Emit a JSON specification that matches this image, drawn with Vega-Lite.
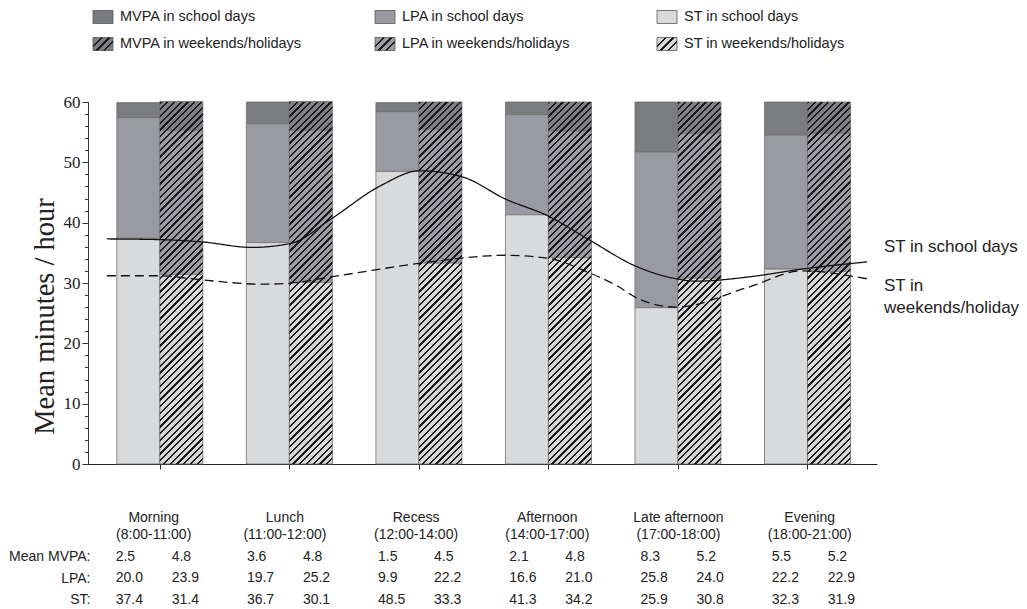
{
  "$schema": "https://vega.github.io/schema/vega-lite/v6.json",
  "padding": {"left": 8, "top": 3, "right": 0, "bottom": 0},
  "spacing": 20,
  "config": {
    "view": {"stroke": null},
    "font": "Liberation Sans",
    "axis": {"grid": false}
  },
  "datasets": {
    "series": [
      {"series":"MVPA in school days","activity":"MVPA","day":"school"},
      {"series":"LPA in school days","activity":"LPA","day":"school"},
      {"series":"ST in school days","activity":"ST","day":"school"},
      {"series":"MVPA in weekends/holidays","activity":"MVPA","day":"weekend"},
      {"series":"LPA in weekends/holidays","activity":"LPA","day":"weekend"},
      {"series":"ST in weekends/holidays","activity":"ST","day":"weekend"}
    ],
    "bars": [
      {"pos":1,"day":"school","activity":"MVPA","level":3,"series":"MVPA in school days","minutes":2.5},
      {"pos":1,"day":"school","activity":"LPA","level":2,"series":"LPA in school days","minutes":20.0},
      {"pos":1,"day":"school","activity":"ST","level":1,"series":"ST in school days","minutes":37.4},
      {"pos":1,"day":"weekend","activity":"MVPA","level":3,"series":"MVPA in weekends/holidays","minutes":4.8},
      {"pos":1,"day":"weekend","activity":"LPA","level":2,"series":"LPA in weekends/holidays","minutes":23.9},
      {"pos":1,"day":"weekend","activity":"ST","level":1,"series":"ST in weekends/holidays","minutes":31.4},
      {"pos":2,"day":"school","activity":"MVPA","level":3,"series":"MVPA in school days","minutes":3.6},
      {"pos":2,"day":"school","activity":"LPA","level":2,"series":"LPA in school days","minutes":19.7},
      {"pos":2,"day":"school","activity":"ST","level":1,"series":"ST in school days","minutes":36.7},
      {"pos":2,"day":"weekend","activity":"MVPA","level":3,"series":"MVPA in weekends/holidays","minutes":4.8},
      {"pos":2,"day":"weekend","activity":"LPA","level":2,"series":"LPA in weekends/holidays","minutes":25.2},
      {"pos":2,"day":"weekend","activity":"ST","level":1,"series":"ST in weekends/holidays","minutes":30.1},
      {"pos":3,"day":"school","activity":"MVPA","level":3,"series":"MVPA in school days","minutes":1.5},
      {"pos":3,"day":"school","activity":"LPA","level":2,"series":"LPA in school days","minutes":9.9},
      {"pos":3,"day":"school","activity":"ST","level":1,"series":"ST in school days","minutes":48.5},
      {"pos":3,"day":"weekend","activity":"MVPA","level":3,"series":"MVPA in weekends/holidays","minutes":4.5},
      {"pos":3,"day":"weekend","activity":"LPA","level":2,"series":"LPA in weekends/holidays","minutes":22.2},
      {"pos":3,"day":"weekend","activity":"ST","level":1,"series":"ST in weekends/holidays","minutes":33.3},
      {"pos":4,"day":"school","activity":"MVPA","level":3,"series":"MVPA in school days","minutes":2.1},
      {"pos":4,"day":"school","activity":"LPA","level":2,"series":"LPA in school days","minutes":16.6},
      {"pos":4,"day":"school","activity":"ST","level":1,"series":"ST in school days","minutes":41.3},
      {"pos":4,"day":"weekend","activity":"MVPA","level":3,"series":"MVPA in weekends/holidays","minutes":4.8},
      {"pos":4,"day":"weekend","activity":"LPA","level":2,"series":"LPA in weekends/holidays","minutes":21.0},
      {"pos":4,"day":"weekend","activity":"ST","level":1,"series":"ST in weekends/holidays","minutes":34.2},
      {"pos":5,"day":"school","activity":"MVPA","level":3,"series":"MVPA in school days","minutes":8.3},
      {"pos":5,"day":"school","activity":"LPA","level":2,"series":"LPA in school days","minutes":25.8},
      {"pos":5,"day":"school","activity":"ST","level":1,"series":"ST in school days","minutes":25.9},
      {"pos":5,"day":"weekend","activity":"MVPA","level":3,"series":"MVPA in weekends/holidays","minutes":5.2},
      {"pos":5,"day":"weekend","activity":"LPA","level":2,"series":"LPA in weekends/holidays","minutes":24.0},
      {"pos":5,"day":"weekend","activity":"ST","level":1,"series":"ST in weekends/holidays","minutes":30.8},
      {"pos":6,"day":"school","activity":"MVPA","level":3,"series":"MVPA in school days","minutes":5.5},
      {"pos":6,"day":"school","activity":"LPA","level":2,"series":"LPA in school days","minutes":22.2},
      {"pos":6,"day":"school","activity":"ST","level":1,"series":"ST in school days","minutes":32.3},
      {"pos":6,"day":"weekend","activity":"MVPA","level":3,"series":"MVPA in weekends/holidays","minutes":5.2},
      {"pos":6,"day":"weekend","activity":"LPA","level":2,"series":"LPA in weekends/holidays","minutes":22.9},
      {"pos":6,"day":"weekend","activity":"ST","level":1,"series":"ST in weekends/holidays","minutes":31.9}
    ],
    "periods": [
      {"pos":1,"label":"Morning\n(8:00-11:00)"},
      {"pos":2,"label":"Lunch\n(11:00-12:00)"},
      {"pos":3,"label":"Recess\n(12:00-14:00)"},
      {"pos":4,"label":"Afternoon\n(14:00-17:00)"},
      {"pos":5,"label":"Late afternoon\n(17:00-18:00)"},
      {"pos":6,"label":"Evening\n(18:00-21:00)"}
    ],
    "curves": [
      {"series":"school","t":0.591,"value":37.3},
      {"series":"school","t":0.987,"value":37.2},
      {"series":"school","t":1.33,"value":36.8},
      {"series":"school","t":1.711,"value":35.9},
      {"series":"school","t":2.016,"value":36.6},
      {"series":"school","t":2.321,"value":40.6},
      {"series":"school","t":2.702,"value":46.1},
      {"series":"school","t":3.007,"value":48.6},
      {"series":"school","t":3.335,"value":47.6},
      {"series":"school","t":3.67,"value":43.9},
      {"series":"school","t":3.998,"value":41.1},
      {"series":"school","t":4.303,"value":37.3},
      {"series":"school","t":4.684,"value":32.7},
      {"series":"school","t":4.988,"value":30.7},
      {"series":"school","t":5.14,"value":30.3},
      {"series":"school","t":5.544,"value":31.0},
      {"series":"school","t":5.956,"value":32.3},
      {"series":"school","t":6.459,"value":33.5},
      {"series":"weekend","t":0.591,"value":31.2},
      {"series":"weekend","t":0.987,"value":31.2},
      {"series":"weekend","t":1.33,"value":30.5},
      {"series":"weekend","t":1.788,"value":29.8},
      {"series":"weekend","t":2.016,"value":30.0},
      {"series":"weekend","t":2.321,"value":31.0},
      {"series":"weekend","t":2.984,"value":33.2},
      {"series":"weekend","t":3.54,"value":34.5},
      {"series":"weekend","t":3.67,"value":34.6},
      {"series":"weekend","t":3.998,"value":34.1},
      {"series":"weekend","t":4.303,"value":31.8},
      {"series":"weekend","t":4.532,"value":29.5},
      {"series":"weekend","t":4.684,"value":27.5},
      {"series":"weekend","t":4.988,"value":26.0},
      {"series":"weekend","t":5.544,"value":29.3},
      {"series":"weekend","t":5.956,"value":32.0},
      {"series":"weekend","t":6.459,"value":30.7}
    ],
    "endlabels": [
      {"series":"school","t":6.459,"value":33.5,"label":"ST in school days"},
      {"series":"weekend","t":6.459,"value":30.7,"label":"ST in\nweekends/holiday"}
    ]
  },
  "vconcat": [
    {
      "width": 846,
      "height": 69.5,
      "data": {"name": "series"},
      "encoding": {
        "x": {"field": "activity", "type": "nominal", "bandPosition": 0,
          "scale": {"type": "band", "domain": ["MVPA","LPA","ST"], "paddingInner": 0, "paddingOuter": 0}, "axis": null},
        "y": {"field": "day", "type": "nominal",
          "scale": {"type": "point", "domain": ["school","weekend"], "padding": 0.787, "align": 0.3294}, "axis": null}
      },
      "layer": [
        {
          "mark": {"type": "point", "shape": "M-1,-0.65H1V0.65H-1Z", "size": 400, "filled": true, "opacity": 1, "stroke": "#555", "strokeWidth": 0.8, "xOffset": 15},
          "encoding": {
            "color": {"field": "series", "type": "nominal",
              "scale": {"domain": ["MVPA in school days","LPA in school days","ST in school days","MVPA in weekends/holidays","LPA in weekends/holidays","ST in weekends/holidays"],
                "range": ["#7b7c80","#9a9aa2","#d9dadc","#7f8085","#9c9ca4","#d6d7d9"]},
              "legend": null}
          }
        },
        {
          "transform": [{"filter": "datum.day === 'weekend'"}],
          "mark": {"type": "point", "shape": "M-1,-0.65H1V0.65H-1Z", "size": 400, "filled": true, "opacity": 1, "strokeWidth": 0, "xOffset": 15,
            "fill": {"gradient":"linear","x1":0,"y1":0,"x2":1.16,"y2":0.754,"stops":[{"offset":0,"color":"#0000"},{"offset":0.237,"color":"#0000"},{"offset":0.237,"color":"#1a1a1a"},{"offset":0.303,"color":"#1a1a1a"},{"offset":0.303,"color":"#0000"},{"offset":0.467,"color":"#0000"},{"offset":0.467,"color":"#1a1a1a"},{"offset":0.533,"color":"#1a1a1a"},{"offset":0.533,"color":"#0000"},{"offset":0.697,"color":"#0000"},{"offset":0.697,"color":"#1a1a1a"},{"offset":0.763,"color":"#1a1a1a"},{"offset":0.763,"color":"#0000"},{"offset":1,"color":"#0000"}]}}
        },
        {
          "mark": {"type": "text", "align": "left", "baseline": "middle", "dx": 32, "fontSize": 14.5, "font": "Liberation Sans", "color": "#222"},
          "encoding": {"text": {"field": "series"}}
        }
      ]
    },
    {
      "width": 789,
      "height": 362,
      "resolve": {"axis": {"y": "independent"}},
      "layer": [
        {
          "data": {"name": "bars"},
          "transform": [{"filter": "datum.day === 'school'"}],
          "mark": {"type": "bar", "width": 43, "xOffset": -21.5, "stroke": "#707070", "strokeWidth": 0.8},
          "encoding": {
            "x": {"field": "pos", "type": "quantitative",
              "scale": {"domain": [0.484, 6.498], "nice": false, "zero": false},
              "axis": {"values": [1,2,3,4,5,6], "labels": false, "tickSize": 5, "domainColor": "#222", "tickColor": "#222", "title": null}},
            "y": {"field": "minutes", "type": "quantitative", "stack": "zero",
              "scale": {"domain": [0, 60], "nice": false},
              "axis": {"orient": "left", "values": [0,10,20,30,40,50,60], "labelOverlap": false, "tickSize": 6,
                "labelFont": "Liberation Serif", "labelFontSize": 17, "labelColor": "#222", "labelPadding": 2,
                "title": "Mean minutes / hour", "titleFont": "Liberation Serif", "titleFontSize": 28.5,
                "titleFontWeight": "normal", "titleColor": "#222", "titlePadding": 4, "titleY": 214,
                "domainColor": "#333", "tickColor": "#333"}},
            "order": {"field": "level", "type": "quantitative"},
            "color": {"field": "series", "type": "nominal",
              "scale": {"domain": ["MVPA in school days","LPA in school days","ST in school days","MVPA in weekends/holidays","LPA in weekends/holidays","ST in weekends/holidays"],
                "range": ["#7b7c80","#9a9aa2","#d9dadc","#7f8085","#9c9ca4","#d6d7d9"]},
              "legend": null}
          }
        },
        {
          "data": {"name": "bars"},
          "transform": [{"filter": "datum.day === 'weekend'"}],
          "mark": {"type": "bar", "width": 43, "xOffset": 21.5, "stroke": "#707070", "strokeWidth": 0.8},
          "encoding": {
            "x": {"field": "pos", "type": "quantitative"},
            "y": {"field": "minutes", "type": "quantitative", "stack": "zero",
              "axis": {"orient": "left", "values": [0,2,4,6,8,10,12,14,16,18,20,22,24,26,28,30,32,34,36,38,40,42,44,46,48,50,52,54,56,58,60],
                "labels": false, "domain": false, "title": null, "tickSize": 3.5, "tickColor": "#333"}},
            "order": {"field": "level", "type": "quantitative"},
            "color": {"field": "series", "type": "nominal", "legend": null}
          }
        },
        {
          "data": {"name": "periods"},
          "mark": {"type": "bar", "width": 43, "xOffset": 21.5, "strokeWidth": 0,
            "fill": {"gradient":"linear","x1":0,"y1":0,"x2":0.13105,"y2":1.10322,"stops":[
{"offset":0,"color":"#1a1a1a"},{"offset":0.0055,"color":"#1a1a1a"},{"offset":0.0055,"color":"#0000"},{"offset":0.0167,"color":"#0000"},
{"offset":0.0167,"color":"#1a1a1a"},{"offset":0.0222,"color":"#1a1a1a"},{"offset":0.0222,"color":"#0000"},{"offset":0.0333,"color":"#0000"},
{"offset":0.0333,"color":"#1a1a1a"},{"offset":0.0388,"color":"#1a1a1a"},{"offset":0.0388,"color":"#0000"},{"offset":0.05,"color":"#0000"},
{"offset":0.05,"color":"#1a1a1a"},{"offset":0.0555,"color":"#1a1a1a"},{"offset":0.0555,"color":"#0000"},{"offset":0.0667,"color":"#0000"},
{"offset":0.0667,"color":"#1a1a1a"},{"offset":0.0722,"color":"#1a1a1a"},{"offset":0.0722,"color":"#0000"},{"offset":0.0833,"color":"#0000"},
{"offset":0.0833,"color":"#1a1a1a"},{"offset":0.0888,"color":"#1a1a1a"},{"offset":0.0888,"color":"#0000"},{"offset":0.1,"color":"#0000"},
{"offset":0.1,"color":"#1a1a1a"},{"offset":0.1055,"color":"#1a1a1a"},{"offset":0.1055,"color":"#0000"},{"offset":0.1167,"color":"#0000"},
{"offset":0.1167,"color":"#1a1a1a"},{"offset":0.1222,"color":"#1a1a1a"},{"offset":0.1222,"color":"#0000"},{"offset":0.1333,"color":"#0000"},
{"offset":0.1333,"color":"#1a1a1a"},{"offset":0.1388,"color":"#1a1a1a"},{"offset":0.1388,"color":"#0000"},{"offset":0.15,"color":"#0000"},
{"offset":0.15,"color":"#1a1a1a"},{"offset":0.1555,"color":"#1a1a1a"},{"offset":0.1555,"color":"#0000"},{"offset":0.1667,"color":"#0000"},
{"offset":0.1667,"color":"#1a1a1a"},{"offset":0.1722,"color":"#1a1a1a"},{"offset":0.1722,"color":"#0000"},{"offset":0.1833,"color":"#0000"},
{"offset":0.1833,"color":"#1a1a1a"},{"offset":0.1888,"color":"#1a1a1a"},{"offset":0.1888,"color":"#0000"},{"offset":0.2,"color":"#0000"},
{"offset":0.2,"color":"#1a1a1a"},{"offset":0.2055,"color":"#1a1a1a"},{"offset":0.2055,"color":"#0000"},{"offset":0.2167,"color":"#0000"},
{"offset":0.2167,"color":"#1a1a1a"},{"offset":0.2222,"color":"#1a1a1a"},{"offset":0.2222,"color":"#0000"},{"offset":0.2333,"color":"#0000"},
{"offset":0.2333,"color":"#1a1a1a"},{"offset":0.2388,"color":"#1a1a1a"},{"offset":0.2388,"color":"#0000"},{"offset":0.25,"color":"#0000"},
{"offset":0.25,"color":"#1a1a1a"},{"offset":0.2555,"color":"#1a1a1a"},{"offset":0.2555,"color":"#0000"},{"offset":0.2667,"color":"#0000"},
{"offset":0.2667,"color":"#1a1a1a"},{"offset":0.2722,"color":"#1a1a1a"},{"offset":0.2722,"color":"#0000"},{"offset":0.2833,"color":"#0000"},
{"offset":0.2833,"color":"#1a1a1a"},{"offset":0.2888,"color":"#1a1a1a"},{"offset":0.2888,"color":"#0000"},{"offset":0.3,"color":"#0000"},
{"offset":0.3,"color":"#1a1a1a"},{"offset":0.3055,"color":"#1a1a1a"},{"offset":0.3055,"color":"#0000"},{"offset":0.3167,"color":"#0000"},
{"offset":0.3167,"color":"#1a1a1a"},{"offset":0.3222,"color":"#1a1a1a"},{"offset":0.3222,"color":"#0000"},{"offset":0.3333,"color":"#0000"},
{"offset":0.3333,"color":"#1a1a1a"},{"offset":0.3388,"color":"#1a1a1a"},{"offset":0.3388,"color":"#0000"},{"offset":0.35,"color":"#0000"},
{"offset":0.35,"color":"#1a1a1a"},{"offset":0.3555,"color":"#1a1a1a"},{"offset":0.3555,"color":"#0000"},{"offset":0.3667,"color":"#0000"},
{"offset":0.3667,"color":"#1a1a1a"},{"offset":0.3722,"color":"#1a1a1a"},{"offset":0.3722,"color":"#0000"},{"offset":0.3833,"color":"#0000"},
{"offset":0.3833,"color":"#1a1a1a"},{"offset":0.3888,"color":"#1a1a1a"},{"offset":0.3888,"color":"#0000"},{"offset":0.4,"color":"#0000"},
{"offset":0.4,"color":"#1a1a1a"},{"offset":0.4055,"color":"#1a1a1a"},{"offset":0.4055,"color":"#0000"},{"offset":0.4167,"color":"#0000"},
{"offset":0.4167,"color":"#1a1a1a"},{"offset":0.4222,"color":"#1a1a1a"},{"offset":0.4222,"color":"#0000"},{"offset":0.4333,"color":"#0000"},
{"offset":0.4333,"color":"#1a1a1a"},{"offset":0.4388,"color":"#1a1a1a"},{"offset":0.4388,"color":"#0000"},{"offset":0.45,"color":"#0000"},
{"offset":0.45,"color":"#1a1a1a"},{"offset":0.4555,"color":"#1a1a1a"},{"offset":0.4555,"color":"#0000"},{"offset":0.4667,"color":"#0000"},
{"offset":0.4667,"color":"#1a1a1a"},{"offset":0.4722,"color":"#1a1a1a"},{"offset":0.4722,"color":"#0000"},{"offset":0.4833,"color":"#0000"},
{"offset":0.4833,"color":"#1a1a1a"},{"offset":0.4888,"color":"#1a1a1a"},{"offset":0.4888,"color":"#0000"},{"offset":0.5,"color":"#0000"},
{"offset":0.5,"color":"#1a1a1a"},{"offset":0.5055,"color":"#1a1a1a"},{"offset":0.5055,"color":"#0000"},{"offset":0.5167,"color":"#0000"},
{"offset":0.5167,"color":"#1a1a1a"},{"offset":0.5222,"color":"#1a1a1a"},{"offset":0.5222,"color":"#0000"},{"offset":0.5333,"color":"#0000"},
{"offset":0.5333,"color":"#1a1a1a"},{"offset":0.5388,"color":"#1a1a1a"},{"offset":0.5388,"color":"#0000"},{"offset":0.55,"color":"#0000"},
{"offset":0.55,"color":"#1a1a1a"},{"offset":0.5555,"color":"#1a1a1a"},{"offset":0.5555,"color":"#0000"},{"offset":0.5667,"color":"#0000"},
{"offset":0.5667,"color":"#1a1a1a"},{"offset":0.5722,"color":"#1a1a1a"},{"offset":0.5722,"color":"#0000"},{"offset":0.5833,"color":"#0000"},
{"offset":0.5833,"color":"#1a1a1a"},{"offset":0.5888,"color":"#1a1a1a"},{"offset":0.5888,"color":"#0000"},{"offset":0.6,"color":"#0000"},
{"offset":0.6,"color":"#1a1a1a"},{"offset":0.6055,"color":"#1a1a1a"},{"offset":0.6055,"color":"#0000"},{"offset":0.6167,"color":"#0000"},
{"offset":0.6167,"color":"#1a1a1a"},{"offset":0.6222,"color":"#1a1a1a"},{"offset":0.6222,"color":"#0000"},{"offset":0.6333,"color":"#0000"},
{"offset":0.6333,"color":"#1a1a1a"},{"offset":0.6388,"color":"#1a1a1a"},{"offset":0.6388,"color":"#0000"},{"offset":0.65,"color":"#0000"},
{"offset":0.65,"color":"#1a1a1a"},{"offset":0.6555,"color":"#1a1a1a"},{"offset":0.6555,"color":"#0000"},{"offset":0.6667,"color":"#0000"},
{"offset":0.6667,"color":"#1a1a1a"},{"offset":0.6722,"color":"#1a1a1a"},{"offset":0.6722,"color":"#0000"},{"offset":0.6833,"color":"#0000"},
{"offset":0.6833,"color":"#1a1a1a"},{"offset":0.6888,"color":"#1a1a1a"},{"offset":0.6888,"color":"#0000"},{"offset":0.7,"color":"#0000"},
{"offset":0.7,"color":"#1a1a1a"},{"offset":0.7055,"color":"#1a1a1a"},{"offset":0.7055,"color":"#0000"},{"offset":0.7167,"color":"#0000"},
{"offset":0.7167,"color":"#1a1a1a"},{"offset":0.7222,"color":"#1a1a1a"},{"offset":0.7222,"color":"#0000"},{"offset":0.7333,"color":"#0000"},
{"offset":0.7333,"color":"#1a1a1a"},{"offset":0.7388,"color":"#1a1a1a"},{"offset":0.7388,"color":"#0000"},{"offset":0.75,"color":"#0000"},
{"offset":0.75,"color":"#1a1a1a"},{"offset":0.7555,"color":"#1a1a1a"},{"offset":0.7555,"color":"#0000"},{"offset":0.7667,"color":"#0000"},
{"offset":0.7667,"color":"#1a1a1a"},{"offset":0.7722,"color":"#1a1a1a"},{"offset":0.7722,"color":"#0000"},{"offset":0.7833,"color":"#0000"},
{"offset":0.7833,"color":"#1a1a1a"},{"offset":0.7888,"color":"#1a1a1a"},{"offset":0.7888,"color":"#0000"},{"offset":0.8,"color":"#0000"},
{"offset":0.8,"color":"#1a1a1a"},{"offset":0.8055,"color":"#1a1a1a"},{"offset":0.8055,"color":"#0000"},{"offset":0.8167,"color":"#0000"},
{"offset":0.8167,"color":"#1a1a1a"},{"offset":0.8222,"color":"#1a1a1a"},{"offset":0.8222,"color":"#0000"},{"offset":0.8333,"color":"#0000"},
{"offset":0.8333,"color":"#1a1a1a"},{"offset":0.8388,"color":"#1a1a1a"},{"offset":0.8388,"color":"#0000"},{"offset":0.85,"color":"#0000"},
{"offset":0.85,"color":"#1a1a1a"},{"offset":0.8555,"color":"#1a1a1a"},{"offset":0.8555,"color":"#0000"},{"offset":0.8667,"color":"#0000"},
{"offset":0.8667,"color":"#1a1a1a"},{"offset":0.8722,"color":"#1a1a1a"},{"offset":0.8722,"color":"#0000"},{"offset":0.8833,"color":"#0000"},
{"offset":0.8833,"color":"#1a1a1a"},{"offset":0.8888,"color":"#1a1a1a"},{"offset":0.8888,"color":"#0000"},{"offset":0.9,"color":"#0000"},
{"offset":0.9,"color":"#1a1a1a"},{"offset":0.9055,"color":"#1a1a1a"},{"offset":0.9055,"color":"#0000"},{"offset":0.9167,"color":"#0000"},
{"offset":0.9167,"color":"#1a1a1a"},{"offset":0.9222,"color":"#1a1a1a"},{"offset":0.9222,"color":"#0000"},{"offset":0.9333,"color":"#0000"},
{"offset":0.9333,"color":"#1a1a1a"},{"offset":0.9388,"color":"#1a1a1a"},{"offset":0.9388,"color":"#0000"},{"offset":0.95,"color":"#0000"},
{"offset":0.95,"color":"#1a1a1a"},{"offset":0.9555,"color":"#1a1a1a"},{"offset":0.9555,"color":"#0000"},{"offset":0.9667,"color":"#0000"},
{"offset":0.9667,"color":"#1a1a1a"},{"offset":0.9722,"color":"#1a1a1a"},{"offset":0.9722,"color":"#0000"},{"offset":0.9833,"color":"#0000"},
{"offset":0.9833,"color":"#1a1a1a"},{"offset":0.9888,"color":"#1a1a1a"},{"offset":0.9888,"color":"#0000"},{"offset":1,"color":"#0000"}
            ]}},
          "encoding": {
            "x": {"field": "pos", "type": "quantitative"},
            "y": {"datum": 0, "type": "quantitative", "axis": null},
            "y2": {"datum": 60}
          }
        },
        {
          "data": {"name": "curves"},
          "mark": {"type": "line", "interpolate": "monotone", "color": "#111", "strokeWidth": 1.3},
          "encoding": {
            "x": {"field": "t", "type": "quantitative"},
            "y": {"field": "value", "type": "quantitative", "axis": null},
            "strokeDash": {"field": "series", "type": "nominal",
              "scale": {"domain": ["school","weekend"], "range": [[1,0],[9,5]]}, "legend": null}
          }
        },
        {
          "data": {"name": "endlabels"},
          "transform": [{"filter": "datum.series === 'school'"}],
          "mark": {"type": "text", "align": "left", "baseline": "middle", "dx": 17, "dy": -15, "fontSize": 17, "font": "Liberation Sans", "color": "#222"},
          "encoding": {
            "x": {"field": "t", "type": "quantitative"},
            "y": {"field": "value", "type": "quantitative", "axis": null},
            "text": {"field": "label"}
          }
        },
        {
          "data": {"name": "endlabels"},
          "transform": [{"filter": "datum.series === 'weekend'"}],
          "mark": {"type": "text", "align": "left", "baseline": "middle", "dx": 17, "dy": 7, "lineBreak": "\n", "lineHeight": 22, "fontSize": 17, "font": "Liberation Sans", "color": "#222"},
          "encoding": {
            "x": {"field": "t", "type": "quantitative"},
            "y": {"field": "value", "type": "quantitative", "axis": null},
            "text": {"field": "label"}
          }
        }
      ]
    },
    {
      "width": 789,
      "height": 107.5,
      "layer": [
        {
          "data": {"name": "periods"},
          "mark": {"type": "text", "align": "center", "baseline": "middle", "dx": -2, "dy": -17, "lineBreak": "\n", "lineHeight": 16.5, "fontSize": 14, "font": "Liberation Sans", "color": "#222"},
          "encoding": {
            "x": {"field": "pos", "type": "quantitative", "axis": null,
              "scale": {"domain": [0.484, 6.498], "nice": false, "zero": false}},
            "y": {"datum": "head", "type": "nominal",
              "scale": {"type": "point", "domain": ["head","MVPA","LPA","ST"], "padding": 1, "align": 1},
              "axis": {"title": null, "domain": false, "ticks": false, "labelPadding": -2,
                "labelFont": "Liberation Sans", "labelFontSize": 14, "labelColor": "#222",
                "labelExpr": "datum.value === 'MVPA' ? 'Mean MVPA:' : datum.value === 'head' ? '' : datum.value + ':'"}},
            "text": {"field": "label"}
          }
        },
        {
          "data": {"name": "bars"},
          "transform": [{"filter": "datum.day === 'school'"}],
          "mark": {"type": "text", "align": "left", "baseline": "middle", "dx": -40, "fontSize": 14, "font": "Liberation Sans", "color": "#222"},
          "encoding": {
            "x": {"field": "pos", "type": "quantitative"},
            "y": {"field": "activity", "type": "nominal"},
            "text": {"field": "minutes", "type": "quantitative", "format": ".1f"}
          }
        },
        {
          "data": {"name": "bars"},
          "transform": [{"filter": "datum.day === 'weekend'"}],
          "mark": {"type": "text", "align": "left", "baseline": "middle", "dx": 16, "fontSize": 14, "font": "Liberation Sans", "color": "#222"},
          "encoding": {
            "x": {"field": "pos", "type": "quantitative"},
            "y": {"field": "activity", "type": "nominal"},
            "text": {"field": "minutes", "type": "quantitative", "format": ".1f"}
          }
        }
      ]
    }
  ]
}
